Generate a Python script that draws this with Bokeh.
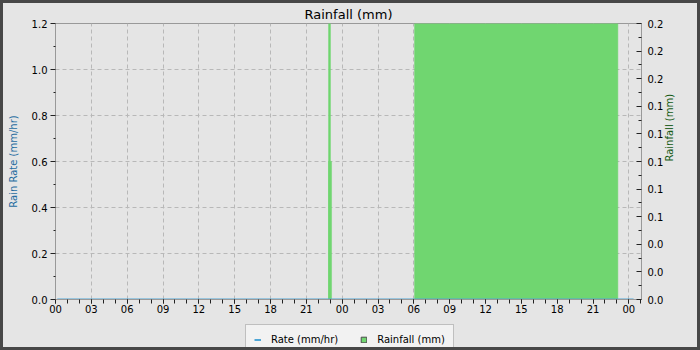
import math
from bokeh.plotting import figure
from bokeh.layouts import column
from bokeh.models import (Range1d, LinearAxis, FixedTicker, NumeralTickFormatter,
                          Legend, LegendItem)
from bokeh.embed import file_html
from bokeh.resources import INLINE

FONT = "DejaVu Sans"

# ---- data ----
hour_ticks = [0, 3, 6, 9, 12, 15, 18, 21, 24, 27, 30, 33, 36, 39, 42, 45, 48]
hour_labels = ["00", "03", "06", "09", "12", "15", "18", "21",
               "00", "03", "06", "09", "12", "15", "18", "21", "00"]
hour_minor = list(range(0, 50))

rate_ticks = [0.0, 0.2, 0.4, 0.6, 0.8, 1.0, 1.2]
rate_minor = [0.1, 0.3, 0.5, 0.7, 0.9, 1.1]
rain_ticks = [0.0, 0.02, 0.04, 0.06, 0.08, 0.10, 0.12, 0.14, 0.16, 0.18, 0.20]
rain_minor = [0.01, 0.03, 0.05, 0.07, 0.09, 0.11, 0.13, 0.15, 0.17, 0.19]

rate_hours = [0.15, 48.4]
rate_mm_hr = [0.0, 0.0]

rain_start_h = [22.86, 22.86, 30.06]
rain_end_h = [23.11, 23.02, 47.08]
rain_mm = [0.1, 0.2, 0.2]

GREEN = "#70d670"
BLUE = "#4ea6d6"
BG = "#e5e5e5"

p = figure(width=694, height=318, output_backend="svg", toolbar_location=None,
           title="Rainfall (mm)",
           x_range=Range1d(0, 49.06), y_range=Range1d(0, 1.2),
           min_border_left=52, min_border_right=56, min_border_top=19, min_border_bottom=22,
           background_fill_color=BG, border_fill_color=BG,
           outline_line_color="#999999")

p.title.align = "center"
p.title.text_font = FONT
p.title.text_font_size = "13px"
p.title.text_font_style = "normal"
p.title.text_color = "#000000"
p.title.standoff = 3

p.extra_y_ranges = {"rain": Range1d(0, 0.2)}

# grids
for g in (p.xgrid, p.ygrid):
    g.grid_line_color = "#b8b8b8"
    g.grid_line_dash = "4 3"
    g.grid_line_width = 1

# x axis
xa = p.xaxis[0]
xa.ticker = FixedTicker(ticks=hour_ticks, minor_ticks=hour_minor)
xa.major_label_overrides = {t: lab for t, lab in zip(hour_ticks, hour_labels)}
xa.axis_line_color = "#999999"
xa.major_tick_out = 4
xa.major_tick_in = 0
xa.minor_tick_out = 4
xa.minor_tick_in = 0
xa.major_tick_line_color = "#222222"
xa.minor_tick_line_color = "#222222"
xa.major_label_standoff = 1
xa.major_label_text_font = FONT
xa.major_label_text_font_size = "10px"
xa.major_label_text_color = "#000000"

# left axis
ya = p.yaxis[0]
ya.ticker = FixedTicker(ticks=rate_ticks, minor_ticks=rate_minor)
ya.formatter = NumeralTickFormatter(format="0.0")
ya.axis_label = "Rain Rate (mm/hr)"
ya.axis_label_text_font = FONT
ya.axis_label_text_font_size = "10px"
ya.axis_label_text_font_style = "normal"
ya.axis_label_text_color = "#1f6ca0"
ya.axis_label_standoff = 10
ya.axis_line_color = "#999999"
ya.major_tick_out = 5
ya.major_tick_in = 0
ya.minor_tick_out = 2
ya.minor_tick_in = 0
ya.major_tick_line_color = "#222222"
ya.minor_tick_line_color = "#222222"
ya.major_label_standoff = 3
ya.major_label_text_font = FONT
ya.major_label_text_font_size = "10px"
ya.major_label_text_color = "#000000"

# right axis
ra = LinearAxis(y_range_name="rain",
                ticker=FixedTicker(ticks=rain_ticks, minor_ticks=rain_minor),
                formatter=NumeralTickFormatter(format="0.0"),
                axis_label="Rainfall (mm)")
ra.axis_label_text_font = FONT
ra.axis_label_text_font_size = "10px"
ra.axis_label_text_font_style = "normal"
ra.axis_label_text_color = "#145a14"
ra.axis_label_standoff = 3
ra.axis_label_orientation = math.pi / 2
ra.axis_line_color = "#999999"
ra.major_tick_out = 0
ra.major_tick_in = 5
ra.minor_tick_out = 0
ra.minor_tick_in = 3
ra.major_tick_line_color = "#222222"
ra.minor_tick_line_color = "#222222"
ra.major_label_standoff = 6
ra.major_label_text_font = FONT
ra.major_label_text_font_size = "10px"
ra.major_label_text_color = "#000000"
p.add_layout(ra, "right")

# rainfall bars
p.quad(left=rain_start_h, right=rain_end_h, bottom=[0] * len(rain_mm), top=rain_mm,
       y_range_name="rain", fill_color=GREEN, line_color=GREEN, line_width=0.5)

# rain rate line
p.line(rate_hours, rate_mm_hr, line_color=BLUE, line_width=2)

# ---- legend strip (separate small figure under the chart) ----
lg = figure(width=694, height=26, output_backend="svg", toolbar_location=None,
            x_range=Range1d(0, 49.06), y_range=Range1d(0, 0.2),
            min_border=0, background_fill_color=BG, border_fill_color=BG,
            outline_line_color=None, x_axis_location=None, y_axis_location=None)
lg.grid.visible = False
leg_rate = lg.line(rate_hours, rate_mm_hr, line_color=BLUE, line_width=2, visible=False)
leg_rain = lg.quad(left=rain_start_h, right=rain_end_h, bottom=[0] * len(rain_mm),
                   top=rain_mm, fill_color=GREEN, line_color="#4a4a4a", line_width=1,
                   visible=False)

legend = Legend(items=[LegendItem(label="Rate (mm/hr)", renderers=[leg_rate]),
                       LegendItem(label="Rainfall (mm)", renderers=[leg_rain])],
                orientation="horizontal", location=(190, -7))
legend.label_text_font = FONT
legend.label_text_font_size = "10px"
legend.label_text_color = "#000000"
legend.label_height = 12
legend.glyph_width = 7
legend.glyph_height = 7
legend.label_standoff = 10
legend.spacing = 22
legend.padding = 8
legend.margin = 0
legend.border_line_color = "#8c8c8c"
legend.background_fill_color = "#f2f2f2"
legend.background_fill_alpha = 1.0
legend.inactive_fill_alpha = 0.0
lg.add_layout(legend, "center")

layout = column(p, lg, spacing=0)
layout.styles = {"border": "3px solid #474747", "background-color": BG}

html = file_html(layout, INLINE)
open("out.html", "w").write(html)
